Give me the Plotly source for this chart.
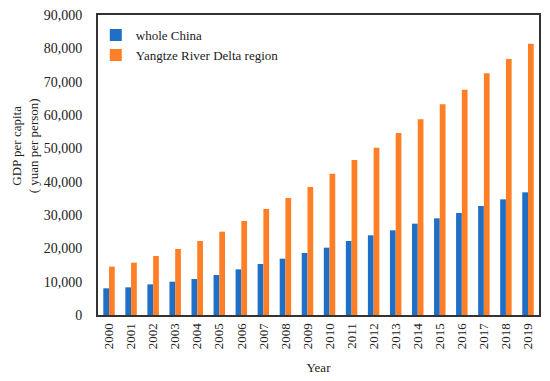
import plotly.graph_objects as go

years = [str(y) for y in range(2000, 2020)]
china = [8000, 8300, 9200, 10000, 10800, 12000, 13700, 15300, 16900, 18600,
         20200, 22200, 23900, 25400, 27400, 29000, 30600, 32700, 34700, 36800]
yrd = [14500, 15700, 17700, 19800, 22200, 25000, 28200, 31800, 35100, 38400,
       42400, 46500, 50200, 54600, 58700, 63200, 67600, 72500, 76800, 81400]
y_ticks = list(range(0, 90001, 10000))

font = dict(family="Liberation Serif, Times New Roman, serif", size=13, color="#222222")

fig = go.Figure()
fig.add_trace(go.Bar(x=years, y=china, name="whole China", legendgroup="a",
                     marker=dict(color="#1f6fc6", line=dict(width=0))))
fig.add_trace(go.Bar(x=years, y=yrd, name="Yangtze River Delta region", legendgroup="b",
                     marker=dict(color="#ff7f27", line=dict(width=0))))

fig.update_layout(
    width=550, height=381,
    margin=dict(l=98, r=11, t=15, b=66, autoexpand=False),
    paper_bgcolor="white", plot_bgcolor="white",
    font=font,
    barmode="group", bargap=0.48, bargroupgap=0.0,
    showlegend=True,
    legend=dict(x=-0.005, y=0.983, xanchor="left", yanchor="top",
                bgcolor="rgba(0,0,0,0)", font=dict(size=13),
                itemwidth=30, traceorder="grouped", tracegroupgap=0),
    xaxis=dict(type="category", tickangle=-90, showline=True, mirror=True,
               linecolor="#333333", linewidth=2, showgrid=False,
               ticks="", ticklabelstandoff=1, automargin=False,
               title=dict(text="Year", standoff=15, font=dict(size=13))),
    yaxis=dict(range=[0, 90000], tickvals=y_ticks, tickformat=",",
               tickfont=dict(size=14), automargin=False,
               showline=True, mirror=True, linecolor="#333333", linewidth=2,
               showgrid=False, zeroline=False, ticks="", ticklabelstandoff=11),
    annotations=[dict(text="GDP per capita<br>( yuan per person)", textangle=-90,
                      xref="paper", yref="paper", x=-0.165, y=0.563,
                      xanchor="center", yanchor="middle", showarrow=False,
                      font=dict(size=13))],
)
fig.write_html(
    "out.html",
    config={"displayModeBar": False},
    post_script="document.documentElement.style.margin='0';"
                "document.body.style.margin='0';"
                "document.body.style.overflow='hidden';",
)
